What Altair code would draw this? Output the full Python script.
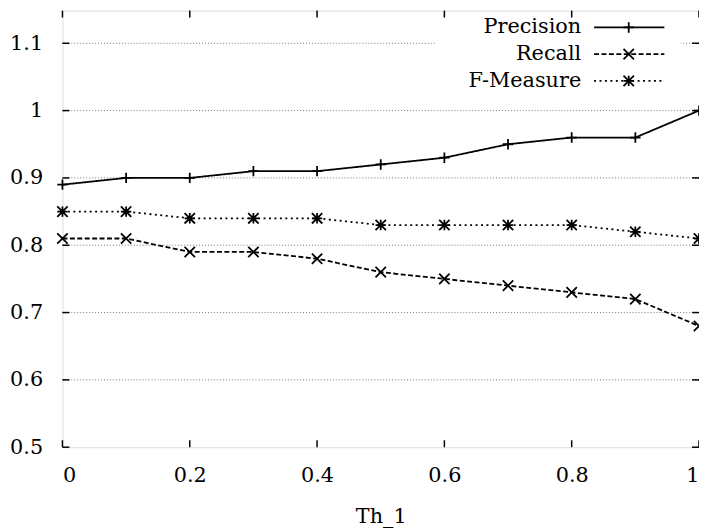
import altair as alt
import pandas as pd

# ---- data ----
th = [0.0, 0.1, 0.2, 0.3, 0.4, 0.5, 0.6, 0.7, 0.8, 0.9, 1.0]
precision = [0.89, 0.90, 0.90, 0.91, 0.91, 0.92, 0.93, 0.95, 0.96, 0.96, 1.00]
recall = [0.81, 0.81, 0.79, 0.79, 0.78, 0.76, 0.75, 0.74, 0.73, 0.72, 0.68]
fmeasure = [0.85, 0.85, 0.84, 0.84, 0.84, 0.83, 0.83, 0.83, 0.83, 0.82, 0.81]
series_names = ["Precision", "Recall", "F-Measure"]
y_ticks = [0.5, 0.6, 0.7, 0.8, 0.9, 1.0, 1.1]
x_ticks = [0.0, 0.2, 0.4, 0.6, 0.8, 1.0]
x_title = "Th_1"

W, H = 643, 441
FONT = "DejaVu Serif"
FS = 21

df = pd.DataFrame({
    "th": th * 3,
    "value": precision + recall + fmeasure,
    "series": [series_names[0]] * len(th) + [series_names[1]] * len(th) + [series_names[2]] * len(th),
})

PLUS = "M-1,0L1,0M0,-1L0,1"
CROSS = "M-1,-1L1,1M-1,1L1,-1"
STAR = PLUS + CROSS
shapes = [PLUS, CROSS, STAR]
dashes = [[1, 0], [5, 2.5], [2, 3.5]]
MSIZE = 110

xs = alt.Scale(domain=[0, 1], nice=False, zero=False)
ys = alt.Scale(domain=[0.5, 1.1485], nice=False, zero=False)

xaxis = alt.Axis(values=x_ticks, format="~g", ticks=False, tickSize=0, domain=False, grid=False,
                 labelPadding=18, labelFontSize=FS, labelFont=FONT, labelColor="black",
                 titleFont=FONT, titleFontSize=FS, titleFontWeight="normal", titleColor="black",
                 titlePadding=20)
yaxis = alt.Axis(values=y_ticks, format="~g", ticks=False, tickSize=0, domain=False, grid=False,
                 labelPadding=20, labelFontSize=FS, labelFont=FONT, labelColor="black")


def X(field):
    return alt.X(field, scale=xs, axis=xaxis, title=x_title)


def Y(field):
    return alt.Y(field, scale=ys, axis=yaxis, title=None)


ytick_df = pd.DataFrame({"y": y_ticks})
xtick_df = pd.DataFrame({"x": x_ticks})
grid_df = pd.DataFrame({"y": y_ticks[1:]})

grid = alt.Chart(grid_df).mark_rule(strokeDash=[1, 2], color="#777777", strokeWidth=1).encode(
    y=Y("y:Q"), x=alt.value(0), x2=alt.value(W))

legend_bg = alt.Chart(grid_df).mark_rect(color="white").encode(
    x=alt.value(377), x2=alt.value(624), y=alt.value(4), y2=alt.value(88))

dash_enc = alt.StrokeDash("series:N", scale=alt.Scale(domain=series_names, range=dashes), legend=None)
shape_enc = alt.Shape("series:N", scale=alt.Scale(domain=series_names, range=shapes), legend=None)

lines = alt.Chart(df).mark_line(color="black", strokeWidth=1.8).encode(
    x=X("th:Q"), y=Y("value:Q"), strokeDash=dash_enc, detail="series:N")

points = alt.Chart(df).mark_point(filled=False, color="black", strokeWidth=1.8, size=MSIZE, opacity=1).encode(
    x=X("th:Q"), y=Y("value:Q"), shape=shape_enc)

# custom legend
legend_layers = []
for i, name in enumerate(series_names):
    ld = pd.DataFrame({"series": [name]})
    yy = 17 + 27 * i
    legend_layers.append(alt.Chart(ld).mark_text(align="right", baseline="middle", font=FONT,
                                                 fontSize=FS, color="black").encode(
        text="series:N", x=alt.value(524), y=alt.value(yy)))
    legend_layers.append(alt.Chart(ld).mark_rule(color="black", strokeWidth=1.8,
                                                 strokeDash=dashes[i]).encode(
        x=alt.value(537), x2=alt.value(608), y=alt.value(yy)))
    legend_layers.append(alt.Chart(ld).mark_point(filled=False, color="black", strokeWidth=1.8,
                                                  size=MSIZE, opacity=1, shape=shapes[i]).encode(
        x=alt.value(572), y=alt.value(yy)))

tick_style = dict(color="black", strokeWidth=1.5)
ytl = alt.Chart(ytick_df).mark_rule(**tick_style).encode(y=Y("y:Q"), x=alt.value(0), x2=alt.value(7))
ytr = alt.Chart(ytick_df).mark_rule(**tick_style).encode(y=Y("y:Q"), x=alt.value(W - 7), x2=alt.value(W))
xtb = alt.Chart(xtick_df).mark_rule(**tick_style).encode(x=X("x:Q"), y=alt.value(H - 7), y2=alt.value(H))
xtt = alt.Chart(xtick_df).mark_rule(**tick_style).encode(x=X("x:Q"), y=alt.value(0), y2=alt.value(7))

chart = alt.layer(grid, legend_bg, lines, points, *legend_layers, ytl, ytr, xtb, xtt).properties(
    width=W, height=H,
    autosize=alt.AutoSizeParams(type="none"),
    padding={"left": 55, "top": 0, "right": 0, "bottom": 82},
).configure_view(stroke="black", strokeWidth=1.5).configure(background="white", font=FONT)

chart.save("out.html", embed_options={"renderer": "svg", "actions": False})
